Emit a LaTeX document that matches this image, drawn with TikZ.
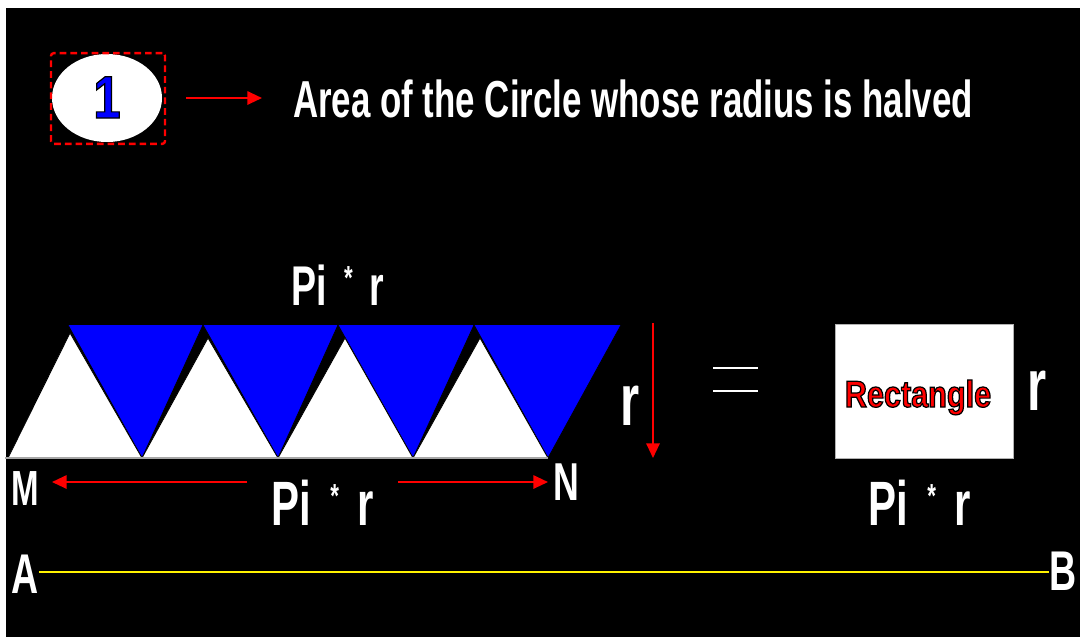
\documentclass[tikz,border=0pt]{standalone}
\usepackage{fontspec}
\setmainfont{Liberation Sans}[FakeStretch=0.67]
\newfontfamily\widefont{Liberation Sans}[FakeStretch=0.82]
\usetikzlibrary{arrows.meta,positioning,shapes.geometric}

\tikzset{
  lbl/.style={text=white, inner sep=0pt, anchor=base},
  redarrow/.style={draw=red, line width=1.5pt, -{Triangle[length=11pt,width=10pt]}},
}
\newcommand{\fsz}[1]{\fontsize{#1}{#1}\selectfont\bfseries}
% fill + black stroke on glyphs
\newcommand{\outl}[1]{\special{pdf:literal q 2 Tr 0 G 0.9 w}#1\special{pdf:literal Q}}
\newcommand{\timesmark}{\hspace{0.3em}\raisebox{0.28em}{\fontsize{25}{25}\selectfont *}\hspace{0.3em}}

\begin{document}
\begin{tikzpicture}[x=0.75pt, y=-0.75pt]
  \useasboundingbox (0,0) rectangle (1080,637);
  \fill[white] (0,0) rectangle (1080,637);
  \fill[black] (6,8) rectangle (1080,637);

  % heading
  \node[ellipse, fill=white, minimum width=82.5pt, minimum height=66pt] (oval) at (107,98) {};
  \node[draw=red, line width=1.8pt, rounded corners=2pt, dash pattern=on 5pt off 3pt,
        minimum width=85.5pt, minimum height=68pt] (onebox) at (108,98.5) {};
  \node[lbl, text=blue, font=\widefont\fsz{45}] (one) at (107,118) {\outl{1}};
  \node[lbl, anchor=base west, font=\fsz{39}] (title) at (293,117) {Area of the Circle whose radius is halved};
  \coordinate (h0) at (186,98);
  \coordinate (h1) at (262,98);
  \draw[redarrow] (h0) -- (h1);

  % triangles
  \foreach \a/\b/\c in {68/203/142, 203/338/278, 338/474/413, 474/621/548}{
    \fill[blue] (\a,325) -- (\b,325) -- (\c,458) -- cycle;
    \draw[black, line width=0.6pt] (\a,325) -- (\c,458) -- (\b,325);
  }
  \foreach \a/\b/\c/\t in {8/142/70/333, 142/278/208/338, 278/413/345/338, 413/548/480/338}{
    \draw[black, fill=white, line width=0.6pt] (\a,458) -- (\c,\t) -- (\b,458) -- cycle;
  }
  \draw[gray!70, line width=0.8pt] (5,458) -- (548,458);

  \node[lbl, font=\fsz{42}] (toplen) at (338,305) {Pi\timesmark r};
  \node[lbl, font=\fsz{55}] (rside) at (630,425) {r};
  \coordinate (r0) at (653,323);
  \coordinate (r1) at (653,458);
  \draw[redarrow] (r0) -- (r1);

  \node[lbl, font=\fsz{37}] (M) at (25,505) {M};
  \node[lbl, font=\fsz{40}] (N) at (566,500) {N};
  \node[lbl, font=\fsz{47}] (botlen) at (323,525) {Pi\timesmark r};
  \coordinate (m0) at (247,482);
  \coordinate (m1) at (52,482);
  \coordinate (n0) at (398,482);
  \coordinate (n1) at (548,482);
  \draw[redarrow] (m0) -- (m1);
  \draw[redarrow] (n0) -- (n1);

  % equals
  \draw[white, line width=1.5pt] (713,368) -- (758,368);
  \draw[white, line width=1.5pt] (713,391) -- (758,391);

  % rectangle
  \node[fill=white, draw=gray!60, line width=0.6pt, minimum width=133.5pt, minimum height=100pt] (rect) at (924,391.5) {};
  \node[lbl, text=red, font=\widefont\fsz{28}] (recttext) at (918,407) {\outl{Rectangle}};
  \node[lbl, font=\fsz{55}] (rright) at (1037,410) {r};
  \node[lbl, font=\fsz{47}] (rectlen) at (920,525) {Pi\timesmark r};

  % line AB
  \node[lbl, font=\fsz{42}] (A) at (25,593) {A};
  \node[lbl, font=\fsz{42}] (B) at (1063,590) {B};
  \draw[yellow, line width=1.5pt] (A.east |- 0,572) -- (B.west |- 0,572);
\end{tikzpicture}
\end{document}
